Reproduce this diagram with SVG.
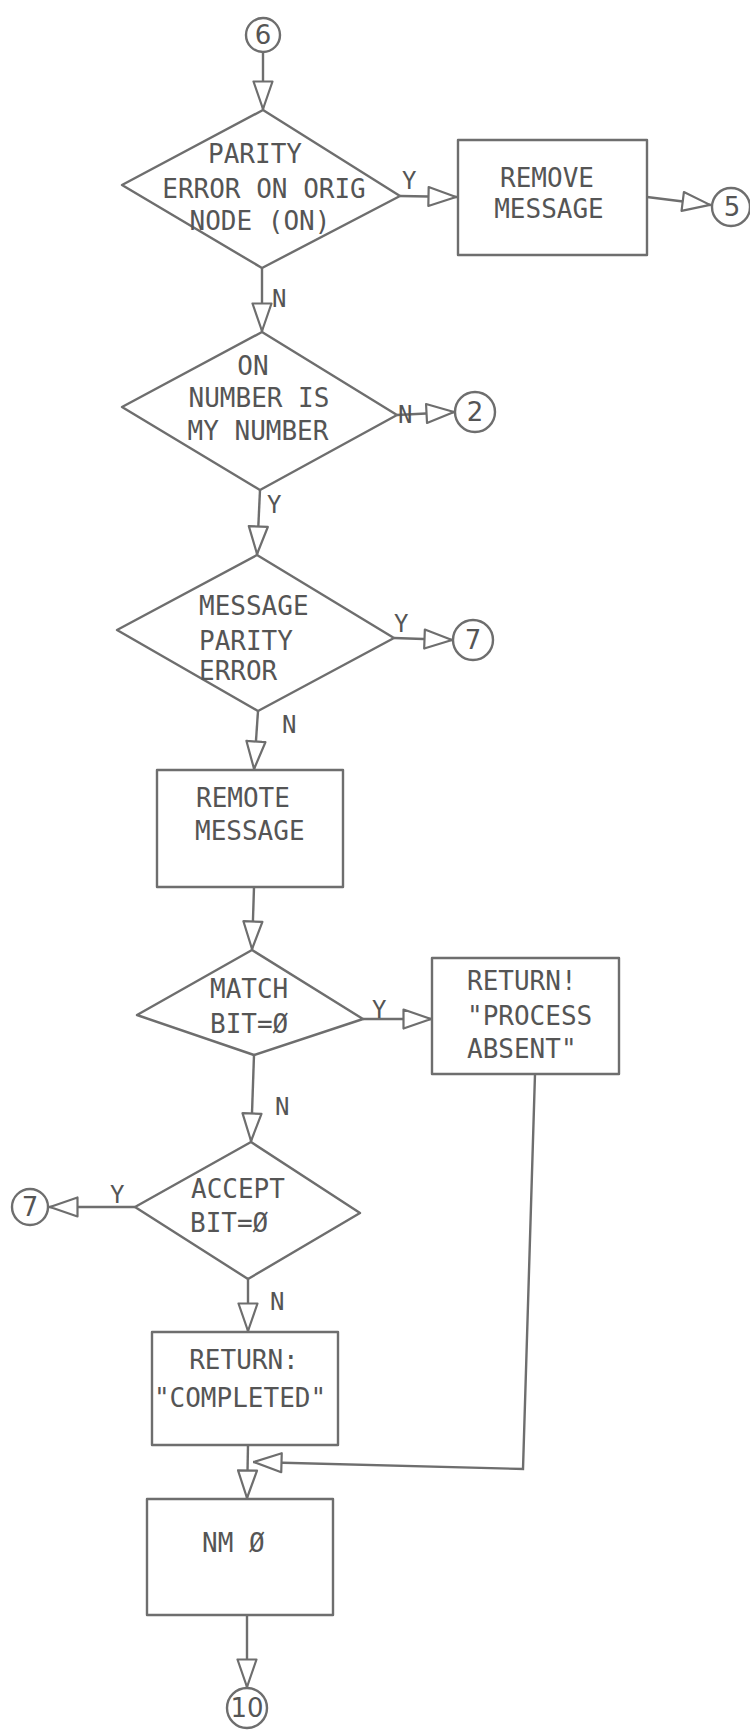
<svg xmlns="http://www.w3.org/2000/svg" width="750" height="1731" viewBox="0 0 750 1731">
<style>
  .shape { fill: none; stroke: #6e6e6e; stroke-width: 2.4; stroke-linejoin: round; }
  .conn { fill: none; stroke: #6e6e6e; stroke-width: 2.4; }
  .t { font-family: "DejaVu Sans Mono", "Liberation Mono", monospace; font-size: 26px; fill: #555; }
  .c { text-anchor: middle; }
  .lbl { font-family: "DejaVu Sans Mono", "Liberation Mono", monospace; font-size: 24px; fill: #555; }
  .circ { fill: #fff; stroke: #6e6e6e; stroke-width: 2.4; }
  .ct { font-family: "DejaVu Sans", "Liberation Sans", sans-serif; font-size: 26px; fill: #555; text-anchor: middle; }
</style>
<defs>
  <marker id="arr" viewBox="0 0 30 22" refX="30" refY="11" markerWidth="30" markerHeight="22" markerUnits="userSpaceOnUse" orient="auto">
    <path d="M1.5,1.5 L29,11 L1.5,20.5 Z" fill="#fff" stroke="#6e6e6e" stroke-width="2.2" stroke-linejoin="round"/>
  </marker>
</defs>
<rect width="750" height="1731" fill="#fff"/>

<g id="connectors">
  <path class="conn" d="M263,52 L263,110" marker-end="url(#arr)"/>
  <path class="conn" d="M400,196 L457,197" marker-end="url(#arr)"/>
  <path class="conn" d="M647,197 L711,205" marker-end="url(#arr)"/>
  <path class="conn" d="M262,268 L262,332" marker-end="url(#arr)"/>
  <path class="conn" d="M397,415 L455,412" marker-end="url(#arr)"/>
  <path class="conn" d="M260,490 L257,555" marker-end="url(#arr)"/>
  <path class="conn" d="M394,638 L453,640" marker-end="url(#arr)"/>
  <path class="conn" d="M258,711 L254,770" marker-end="url(#arr)"/>
  <path class="conn" d="M254,887 L252,950" marker-end="url(#arr)"/>
  <path class="conn" d="M363,1019 L432,1019" marker-end="url(#arr)"/>
  <path class="conn" d="M254,1055 L251,1142" marker-end="url(#arr)"/>
  <path class="conn" d="M135,1207 L49,1207" marker-end="url(#arr)"/>
  <path class="conn" d="M248,1279 L248,1332" marker-end="url(#arr)"/>
  <path class="conn" d="M248,1445 L247,1499" marker-end="url(#arr)"/>
  <path class="conn" d="M535,1074 L523,1469 L253,1462" marker-end="url(#arr)"/>
  <path class="conn" d="M247,1615 L247,1688" marker-end="url(#arr)"/>
</g>

<g id="labels">
  <text class="lbl" x="402" y="189">Y</text>
  <text class="lbl" x="272" y="307">N</text>
  <text class="lbl" x="398" y="423">N</text>
  <text class="lbl" x="267" y="513">Y</text>
  <text class="lbl" x="394" y="632">Y</text>
  <text class="lbl" x="282" y="733">N</text>
  <text class="lbl" x="372" y="1018">Y</text>
  <text class="lbl" x="275" y="1115">N</text>
  <text class="lbl" x="110" y="1203">Y</text>
  <text class="lbl" x="270" y="1310">N</text>
</g>

<g id="c6">
  <circle class="circ" cx="263" cy="35" r="17"/>
  <text class="ct" x="263" y="44">6</text>
</g>

<g id="d1">
  <polygon class="shape" points="263,110 400,196 262,268 122,185"/>
  <text class="t c" x="255" y="163">PARITY</text>
  <text class="t c" x="264" y="198">ERROR ON ORIG</text>
  <text class="t c" x="260" y="230">NODE (ON)</text>
</g>

<g id="b1">
  <rect class="shape" x="458" y="140" width="189" height="115"/>
  <text class="t c" x="547" y="187">REMOVE</text>
  <text class="t c" x="549" y="218">MESSAGE</text>
</g>

<g id="c5">
  <circle class="circ" cx="731" cy="207" r="19"/>
  <text class="ct" x="732" y="216">5</text>
</g>

<g id="d2">
  <polygon class="shape" points="262,332 397,415 260,490 122,407"/>
  <text class="t c" x="253" y="375">ON</text>
  <text class="t c" x="259" y="407">NUMBER IS</text>
  <text class="t c" x="258" y="440">MY NUMBER</text>
</g>

<g id="c2">
  <circle class="circ" cx="475" cy="412" r="20"/>
  <text class="ct" x="475" y="421">2</text>
</g>

<g id="d3">
  <polygon class="shape" points="257,555 394,638 258,711 117,630"/>
  <text class="t" x="199" y="615">MESSAGE</text>
  <text class="t" x="199" y="650">PARITY</text>
  <text class="t" x="199" y="680">ERROR</text>
</g>

<g id="c7a">
  <circle class="circ" cx="473" cy="640" r="20"/>
  <text class="ct" x="473" y="649">7</text>
</g>

<g id="b2">
  <rect class="shape" x="157" y="770" width="186" height="117"/>
  <text class="t" x="196" y="807">REMOTE</text>
  <text class="t" x="195" y="840">MESSAGE</text>
</g>

<g id="d4">
  <polygon class="shape" points="252,950 363,1019 254,1055 137,1015"/>
  <text class="t" x="210" y="998">MATCH</text>
  <text class="t" x="210" y="1033">BIT=Ø</text>
</g>

<g id="b3">
  <rect class="shape" x="432" y="958" width="187" height="116"/>
  <text class="t" x="467" y="990">RETURN!</text>
  <text class="t" x="467" y="1025">"PROCESS</text>
  <text class="t" x="467" y="1058">ABSENT"</text>
</g>

<g id="d5">
  <polygon class="shape" points="251,1142 360,1213 248,1279 135,1207"/>
  <text class="t" x="191" y="1198">ACCEPT</text>
  <text class="t" x="190" y="1232">BIT=Ø</text>
</g>

<g id="c7b">
  <circle class="circ" cx="30" cy="1207" r="18"/>
  <text class="ct" x="30" y="1216">7</text>
</g>

<g id="b4">
  <rect class="shape" x="152" y="1332" width="186" height="113"/>
  <text class="t c" x="244" y="1369">RETURN:</text>
  <text class="t c" x="240" y="1407">"COMPLETED"</text>
</g>

<g id="b5">
  <rect class="shape" x="147" y="1499" width="186" height="116"/>
  <text class="t" x="202" y="1552">NM Ø</text>
</g>

<g id="c10">
  <circle class="circ" cx="247" cy="1708" r="20"/>
  <text class="ct" x="247" y="1717">10</text>
</g>
</svg>
